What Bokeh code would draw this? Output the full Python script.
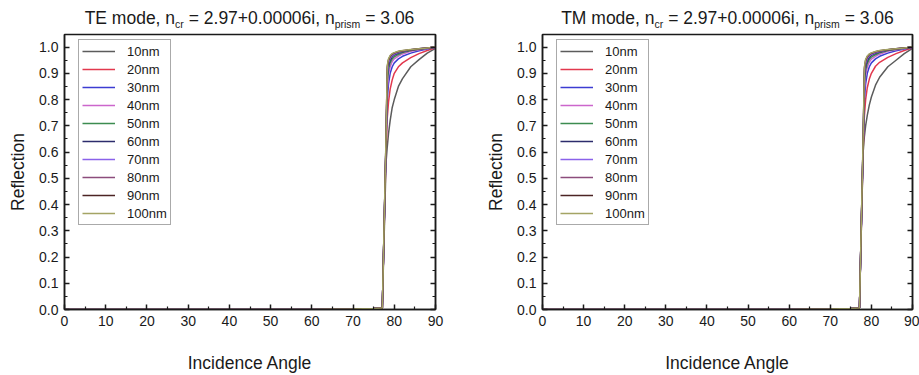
from bokeh.plotting import figure
from bokeh.models import Range1d, LinearAxis, FixedTicker, PrintfTickFormatter, Div
from bokeh.layouts import row, column
from bokeh.embed import file_html
from bokeh.resources import INLINE

FONT = "Liberation Sans"

angle = [0, 60, 65, 70, 75, 77.1, 78.0, 78.3, 78.6, 79.0, 79.5, 80, 81, 82, 84, 86, 88, 90]
labels = ["10nm", "20nm", "30nm", "40nm", "50nm", "60nm", "70nm", "80nm", "90nm", "100nm"]
colors = ["#5c5c5c", "#e2384e", "#3c3cd2", "#cc66cc", "#3c8c50",
          "#2c2c6c", "#8a62ea", "#8c4c7c", "#4c2424", "#a4a464"]

pre = [0, 0, 0.001, 0.002, 0.004, 0.006]
te_10 = pre + [0.56, 0.62, 0.67, 0.72, 0.77, 0.80, 0.85, 0.88, 0.925, 0.952, 0.977, 0.995]
te_20 = pre + [0.60, 0.73, 0.79, 0.84, 0.875, 0.90, 0.925, 0.94, 0.96, 0.975, 0.987, 0.997]
te_30 = pre + [0.62, 0.80, 0.86, 0.90, 0.925, 0.94, 0.955, 0.965, 0.977, 0.986, 0.993, 0.998]
te_40 = pre + [0.63, 0.84, 0.895, 0.925, 0.945, 0.955, 0.966, 0.974, 0.984, 0.990, 0.995, 0.999]
te_50 = pre + [0.63, 0.87, 0.915, 0.94, 0.955, 0.963, 0.972, 0.979, 0.987, 0.992, 0.996, 1.0]
te_60 = pre + [0.64, 0.89, 0.93, 0.95, 0.963, 0.970, 0.977, 0.982, 0.989, 0.993, 0.997, 1.0]
te_70 = pre + [0.64, 0.90, 0.94, 0.958, 0.968, 0.973, 0.980, 0.984, 0.990, 0.994, 0.997, 1.0]
te_80 = pre + [0.65, 0.915, 0.948, 0.963, 0.972, 0.976, 0.982, 0.985, 0.990, 0.994, 0.997, 1.0]
te_90 = pre + [0.65, 0.925, 0.952, 0.966, 0.974, 0.978, 0.983, 0.986, 0.990, 0.994, 0.997, 1.0]
te_100 = pre + [0.66, 0.93, 0.955, 0.968, 0.975, 0.979, 0.984, 0.987, 0.991, 0.994, 0.997, 1.0]

tm_10 = pre + [0.60, 0.66, 0.70, 0.74, 0.78, 0.81, 0.855, 0.885, 0.925, 0.950, 0.975, 0.995]
tm_20 = pre + [0.61, 0.74, 0.80, 0.845, 0.878, 0.90, 0.927, 0.942, 0.961, 0.975, 0.987, 0.997]
tm_30 = pre + [0.62, 0.80, 0.86, 0.90, 0.925, 0.94, 0.955, 0.965, 0.977, 0.986, 0.993, 0.998]
tm_40 = pre + [0.63, 0.84, 0.893, 0.923, 0.943, 0.954, 0.965, 0.973, 0.984, 0.990, 0.995, 0.999]
tm_50 = pre + [0.63, 0.865, 0.912, 0.938, 0.954, 0.962, 0.971, 0.978, 0.987, 0.992, 0.996, 1.0]
tm_60 = pre + [0.64, 0.885, 0.928, 0.948, 0.962, 0.969, 0.976, 0.981, 0.989, 0.993, 0.997, 1.0]
tm_70 = pre + [0.64, 0.90, 0.938, 0.956, 0.967, 0.972, 0.979, 0.983, 0.990, 0.994, 0.997, 1.0]
tm_80 = pre + [0.65, 0.91, 0.945, 0.961, 0.971, 0.975, 0.981, 0.985, 0.990, 0.994, 0.997, 1.0]
tm_90 = pre + [0.65, 0.92, 0.950, 0.964, 0.973, 0.977, 0.982, 0.986, 0.990, 0.994, 0.997, 1.0]
tm_100 = pre + [0.66, 0.925, 0.953, 0.966, 0.974, 0.978, 0.983, 0.987, 0.991, 0.994, 0.997, 1.0]

te_series = [te_10, te_20, te_30, te_40, te_50, te_60, te_70, te_80, te_90, te_100]
tm_series = [tm_10, tm_20, tm_30, tm_40, tm_50, tm_60, tm_70, tm_80, tm_90, tm_100]

y_ticks = [0.0, 0.1, 0.2, 0.3, 0.4, 0.5, 0.6, 0.7, 0.8, 0.9, 1.0]
y_minor = [0.05, 0.15, 0.25, 0.35, 0.45, 0.55, 0.65, 0.75, 0.85, 0.95]
x_ticks = [0, 10, 20, 30, 40, 50, 60, 70, 80, 90]
x_minor = [5, 15, 25, 35, 45, 55, 65, 75, 85]

INK = "#1a1a1a"


def style_axis(ax):
    ax.axis_line_width = 1.5
    ax.axis_line_color = INK
    ax.major_tick_line_color = INK
    ax.minor_tick_line_color = INK
    ax.major_tick_line_width = 1.5
    ax.minor_tick_line_width = 1.2
    ax.major_tick_in = 5
    ax.major_tick_out = 0
    ax.minor_tick_in = 3
    ax.minor_tick_out = 0


def make_panel(series, width, border_left, border_right):
    p = figure(width=width, height=343, output_backend="svg", toolbar_location=None,
               x_range=Range1d(0, 90), y_range=Range1d(0, 1.048),
               min_border_left=border_left, min_border_right=border_right,
               min_border_top=2, min_border_bottom=64)
    p.grid.visible = False
    p.outline_line_color = INK
    p.outline_line_width = 1.5

    for ys, lab, col in zip(series, labels, colors):
        p.line(angle, ys, line_color=col, line_width=1.5, legend_label=lab)

    for ax in (p.xaxis[0], p.yaxis[0]):
        style_axis(ax)
        ax.major_label_text_font = FONT
        ax.major_label_text_font_size = "14px"
        ax.major_label_text_color = INK
        ax.axis_label_text_font = FONT
        ax.axis_label_text_font_size = "17.5px"
        ax.axis_label_text_font_style = "normal"
        ax.axis_label_text_color = INK

    p.xaxis[0].ticker = FixedTicker(ticks=x_ticks, minor_ticks=x_minor)
    p.yaxis[0].ticker = FixedTicker(ticks=y_ticks, minor_ticks=y_minor)
    p.yaxis[0].formatter = PrintfTickFormatter(format="%.1f")
    p.xaxis[0].axis_label = "Incidence Angle"
    p.yaxis[0].axis_label = "Reflection"
    p.xaxis[0].major_label_standoff = 6
    p.xaxis[0].axis_label_standoff = 24
    p.yaxis[0].major_label_standoff = 6
    p.yaxis[0].axis_label_standoff = 8

    right = LinearAxis(ticker=FixedTicker(ticks=y_ticks, minor_ticks=y_minor))
    style_axis(right)
    right.major_label_text_color = None
    right.major_label_text_font_size = "1px"
    right.major_label_standoff = 0
    p.add_layout(right, "right")

    leg = p.legend[0]
    leg.location = (14, 84)
    leg.label_text_font = FONT
    leg.label_text_font_size = "13px"
    leg.label_text_color = INK
    leg.glyph_width = 33
    leg.glyph_height = 16
    leg.label_height = 16
    leg.label_standoff = 12
    leg.spacing = 2
    leg.padding = 3
    leg.margin = 0
    leg.border_line_color = "#555555"
    leg.border_line_width = 1.2
    leg.background_fill_alpha = 1.0
    return p


def make_title(mode, width, frame_left, frame_width):
    sub = "font-size:10.5px;vertical-align:-4px;line-height:1"
    html = (
        f'<div style="margin-left:{frame_left}px;width:{frame_width}px;text-align:center;'
        f'padding-top:10px;line-height:1;white-space:nowrap;font-family:\'{FONT}\';'
        f'font-size:17.5px;color:{INK}">'
        f'{mode} mode, n<span style="{sub}">cr</span> = 2.97+0.00006i, '
        f'n<span style="{sub}">prism</span> = 3.06</div>'
    )
    return Div(text=html, width=width, height=32, margin=(0, 0, 0, 0))


t1 = make_title("TE", 460, 64, 371)
t2 = make_title("TM", 459, 82, 371)
p1 = make_panel(te_series, 460, 64, 25)
p2 = make_panel(tm_series, 459, 82, 7)

layout = column(row(t1, t2, spacing=0), row(p1, p2, spacing=0), spacing=0)
open("out.html", "w").write(file_html(layout, INLINE))
